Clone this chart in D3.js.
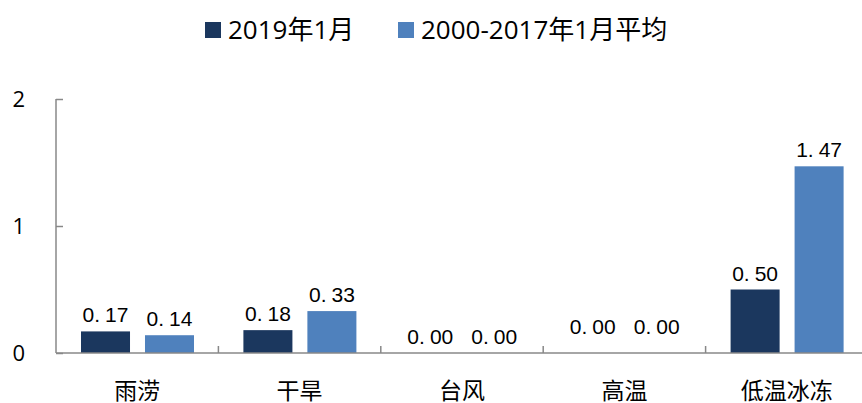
<!DOCTYPE html>
<html>
<head>
<meta charset="utf-8">
<script src="https://cdn.jsdelivr.net/npm/d3@7"></script>
<style>
  body { margin: 0; background: #fff; }
  svg { display: block; }
  text { font-family: "Open Sans", "Noto Sans CJK SC", sans-serif; fill: #000; }
  .val { font-family: "Liberation Sans", Arial, sans-serif; font-size: 21px; }
</style>
</head>
<body>
<svg width="862" height="403"></svg>
<script>
var categories = ["雨涝", "干旱", "台风", "高温", "低温冰冻"];
var seriesNames = ["2019年1月", "2000-2017年1月平均"];
var jan2019 = [0.17, 0.18, 0.00, 0.00, 0.50];
var avg2000_2017 = [0.14, 0.33, 0.00, 0.00, 1.47];
var yTicks = [0, 1, 2];
var colors = ["#1b375e", "#4f81bd"];

var svg = d3.select("svg"),
    plotLeft = 56, plotRight = 868, plotTop = 99, plotBottom = 353,
    axisColor = "#888888";

var x = d3.scaleBand().domain(categories).range([plotLeft, plotRight]).padding(0);
var x1 = d3.scaleBand().domain(seriesNames).range([25, 138]).paddingInner(0.234).paddingOuter(0);
var y = d3.scaleLinear().domain([0, 2]).range([plotBottom, plotTop]);

var data = categories.map(function(c, i) {
    return {cat: c, values: [jan2019[i], avg2000_2017[i]]};
});

// bars
var groups = svg.append("g").selectAll("g")
    .data(data)
    .enter().append("g")
    .attr("transform", function(d) { return "translate(" + x(d.cat) + ",0)"; });

groups.selectAll("rect")
    .data(function(d) { return d.values.map(function(v, j) { return {s: seriesNames[j], v: v, j: j}; }); })
    .enter().append("rect")
    .attr("x", function(d) { return x1(d.s); })
    .attr("width", x1.bandwidth())
    .attr("y", function(d) { return y(d.v); })
    .attr("height", function(d) { return plotBottom - y(d.v); })
    .attr("fill", function(d) { return colors[d.j]; });

// value labels, wide gap after the decimal point like the original
var vals = groups.selectAll("text.val")
    .data(function(d) { return d.values.map(function(v, j) { return {s: seriesNames[j], v: v, cat: d.cat}; }); })
    .enter().append("text")
    .attr("class", "val")
    .attr("text-anchor", "middle")
    .attr("x", function(d) { return x1(d.s) + x1.bandwidth() / 2; })
    .attr("y", function(d) { return y(d.v) - (d.cat == "高温" ? 19 : 9); });
vals.append("tspan").text(function(d) { return d.v.toFixed(2).split(".")[0] + "."; });
vals.append("tspan").attr("dx", 5).text(function(d) { return d.v.toFixed(2).split(".")[1]; });

// y axis
var yAxis = svg.append("g")
    .attr("transform", "translate(" + plotLeft + ",0)")
    .call(d3.axisRight(y).tickValues(yTicks).tickSize(7).tickFormat(""));
yAxis.select(".domain").attr("d", "M0," + plotTop + "V" + plotBottom);
yAxis.selectAll("line, path").attr("stroke", axisColor).attr("stroke-width", 1.5);

svg.append("g").selectAll("text")
    .data(yTicks)
    .enter().append("text")
    .attr("x", 25)
    .attr("y", function(d) { return y(d); })
    .attr("dy", "0.36em")
    .attr("text-anchor", "end")
    .style("font-size", "22px")
    .text(function(d) { return d; });

// x axis
svg.append("line")
    .attr("x1", plotLeft).attr("x2", 862)
    .attr("y1", plotBottom).attr("y2", plotBottom)
    .attr("stroke", axisColor).attr("stroke-width", 1.5);

svg.append("g").selectAll("line")
    .data(categories.slice(1))
    .enter().append("line")
    .attr("x1", function(d) { return x(d); })
    .attr("x2", function(d) { return x(d); })
    .attr("y1", plotBottom).attr("y2", plotBottom - 7)
    .attr("stroke", axisColor).attr("stroke-width", 1.5);

svg.append("g").selectAll("text")
    .data(categories)
    .enter().append("text")
    .attr("x", function(d) { return x(d) + x.bandwidth() / 2; })
    .attr("y", 399)
    .attr("text-anchor", "middle")
    .style("font-size", "23px")
    .text(function(d) { return d; });

// legend
var legendX = [205, 398];
var legend = svg.append("g").selectAll("g")
    .data(seriesNames)
    .enter().append("g")
    .attr("transform", function(d, i) { return "translate(" + legendX[i] + ",22)"; });
legend.append("rect")
    .attr("width", 16).attr("height", 16)
    .attr("fill", function(d, i) { return colors[i]; });
legend.append("text")
    .attr("x", 23).attr("y", 17)
    .style("font-size", "26px")
    .text(function(d) { return d; });
</script>
</body>
</html>
